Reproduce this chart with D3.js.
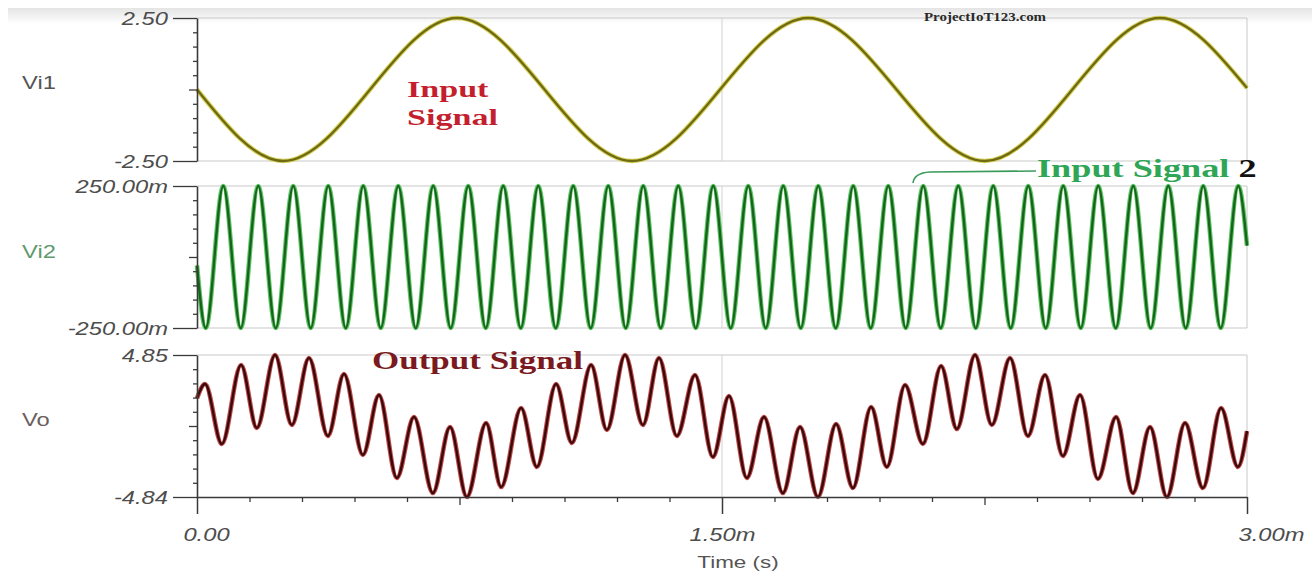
<!DOCTYPE html>
<html>
<head>
<meta charset="utf-8">
<script src="https://cdn.jsdelivr.net/npm/d3@7"></script>
<style>
  html, body { margin: 0; padding: 0; background: #ffffff; }
  svg { display: block; }
</style>
</head>
<body>
<script>
// ---------------- DATA ----------------
// time axis (ms)
const timeDomain = [0, 3];
const timeTickLabels = ["0.00", "1.50m", "3.00m"];
const timeMajorTicks = [0, 1.5, 3];

// Vi1 : extrema [time ms, volts]
const vi1Points = [
  [0.000, 0.00], [0.246, -2.50], [0.743, 2.50], [1.243, -2.50],
  [1.746, 2.50], [2.251, -2.50], [2.751, 2.50], [3.000, 0.05]
];
const vi1Domain = [-2.5, 2.5];
const vi1TickLabels = ["-2.50", "2.50"];

// Vi2 : extrema [time ms, volts]
const vi2Points = [
  [0.000,-0.03],[0.025,-0.25],[0.075,0.25],[0.125,-0.25],[0.175,0.25],[0.225,-0.25],[0.275,0.25],[0.325,-0.25],[0.375,0.25],[0.425,-0.25],[0.475,0.25],
  [0.525,-0.25],[0.575,0.25],[0.625,-0.25],[0.675,0.25],[0.725,-0.25],[0.775,0.25],[0.825,-0.25],[0.875,0.25],[0.925,-0.25],[0.975,0.25],
  [1.025,-0.25],[1.075,0.25],[1.125,-0.25],[1.175,0.25],[1.225,-0.25],[1.275,0.25],[1.325,-0.25],[1.375,0.25],[1.425,-0.25],[1.475,0.25],
  [1.525,-0.25],[1.575,0.25],[1.625,-0.25],[1.675,0.25],[1.725,-0.25],[1.775,0.25],[1.825,-0.25],[1.875,0.25],[1.925,-0.25],[1.975,0.25],
  [2.025,-0.25],[2.075,0.25],[2.125,-0.25],[2.175,0.25],[2.225,-0.25],[2.275,0.25],[2.325,-0.25],[2.375,0.25],[2.425,-0.25],[2.475,0.25],
  [2.525,-0.25],[2.575,0.25],[2.625,-0.25],[2.675,0.25],[2.725,-0.25],[2.775,0.25],[2.825,-0.25],[2.875,0.25],[2.925,-0.25],[2.975,0.25],
  [3.000,0.04]
];
const vi2Domain = [-0.25, 0.25];
const vi2TickLabels = ["-250.00m", "250.00m"];

// Vo : extrema [time ms, volts]
const voPoints = [
  [0.000,1.90],[0.023,2.87],[0.071,-1.22],[0.126,4.17],[0.171,-0.13],[0.223,4.85],[0.271,0.07],[0.320,4.65],[0.374,-0.68],[0.420,3.55],
  [0.474,-1.97],[0.520,2.12],[0.571,-3.54],[0.620,0.62],[0.674,-4.57],[0.723,-0.06],[0.771,-4.84],[0.826,0.21],[0.869,-4.16],[0.926,1.23],
  [0.971,-2.79],[1.026,2.87],[1.071,-1.15],[1.126,4.17],[1.171,-0.27],[1.223,4.85],[1.274,0.07],[1.320,4.65],[1.371,-0.68],[1.423,3.49],
  [1.474,-2.11],[1.520,2.05],[1.571,-3.54],[1.620,0.62],[1.674,-4.57],[1.723,-0.06],[1.774,-4.84],[1.826,0.14],[1.874,-4.23],[1.926,1.30],
  [1.971,-2.79],[2.023,2.80],[2.074,-1.22],[2.126,4.10],[2.171,-0.20],[2.223,4.85],[2.271,0.07],[2.323,4.65],[2.374,-0.68],[2.423,3.49],
  [2.474,-2.04],[2.523,2.12],[2.574,-3.61],[2.626,0.62],[2.674,-4.57],[2.723,-0.06],[2.771,-4.84],[2.823,0.21],[2.874,-4.23],[2.926,1.23],
  [2.974,-2.79],[3.000,-0.34]
];
const voDomain = [-4.84, 4.85];
const voTickLabels = ["-4.84", "4.85"];

const seriesNames = ["Vi1", "Vi2", "Vo"];

// ---------------- LAYOUT ----------------
const W = 1312, H = 574;
const X0 = 197, X1 = 1247;
const SANS = "'Liberation Sans', Arial, sans-serif";
const SERIF = "'Liberation Serif', 'Times New Roman', serif";
const SX = 1.32; // horizontal stretch of the original picture's text

const panels = [
  { name: seriesNames[0], pts: vi1Points, domain: vi1Domain, labels: vi1TickLabels, top: 18, bottom: 161,
    core: "#6f6a14", halo: "#d2cc40", labelColor: "#555555", labelY: 83 },
  { name: seriesNames[1], pts: vi2Points, domain: vi2Domain, labels: vi2TickLabels, top: 186, bottom: 328,
    core: "#1b621f", halo: "#3cbf45", labelColor: "#5f9a6c", labelY: 252 },
  { name: seriesNames[2], pts: voPoints, domain: voDomain, labels: voTickLabels, top: 355, bottom: 497,
    core: "#380a0a", halo: "#b8282a", labelColor: "#6b5e5e", labelY: 420 }
];

const svg = d3.select("body").append("svg").attr("width", W).attr("height", H);

// top grey band (browser bar in the screenshot)
const defs = svg.append("defs");
const grad = defs.append("linearGradient").attr("id", "band").attr("x1", 0).attr("y1", 0).attr("x2", 0).attr("y2", 1);
grad.append("stop").attr("offset", "0%").attr("stop-color", "#e4e4e4");
grad.append("stop").attr("offset", "100%").attr("stop-color", "#ffffff");
svg.append("rect").attr("x", 8).attr("y", 8).attr("width", W - 8).attr("height", 16).attr("fill", "url(#band)");

const x = d3.scaleLinear().domain(timeDomain).range([X0, X1]);

panels.forEach((p, i) => {
  const y = d3.scaleLinear().domain(p.domain).range([p.bottom, p.top]);
  const g = svg.append("g");

  // grid / frame
  g.append("line").attr("x1", X0).attr("x2", X1).attr("y1", y(p.domain[1])).attr("y2", y(p.domain[1]))
    .attr("stroke", "#c9c9c9").attr("stroke-width", 1);
  if (i < 2) {
    g.append("line").attr("x1", X0).attr("x2", X1).attr("y1", y(p.domain[0])).attr("y2", y(p.domain[0]))
      .attr("stroke", "#c9c9c9").attr("stroke-width", 1);
  }
  g.append("line").attr("x1", x(timeDomain[1])).attr("x2", x(timeDomain[1])).attr("y1", p.top).attr("y2", p.bottom)
    .attr("stroke", "#c9c9c9").attr("stroke-width", 1);
  g.append("line").attr("x1", x(1.5)).attr("x2", x(1.5)).attr("y1", p.top).attr("y2", p.bottom)
    .attr("stroke", "#d2d2d2").attr("stroke-width", 1);

  // signal
  const line = d3.line().x(d => x(d[0])).y(d => y(d[1])).curve(d3.curveMonotoneX);
  g.append("path").datum(p.pts).attr("d", line).attr("fill", "none")
    .attr("stroke", p.halo).attr("stroke-width", 4.6).attr("stroke-linejoin", "round").attr("opacity", 0.85);
  g.append("path").datum(p.pts).attr("d", line).attr("fill", "none")
    .attr("stroke", p.core).attr("stroke-width", 2.4).attr("stroke-linejoin", "round");

  // y axis: minor ticks (10 equal divisions)
  const lo = p.domain[0], hi = p.domain[1];
  const minor = d3.range(1, 10).filter(k => k !== 5).map(k => lo + k * (hi - lo) / 10);
  const axMinor = d3.axisLeft(y).tickValues(minor).tickSize(4).tickFormat("").tickSizeOuter(0);
  const gm = g.append("g").attr("transform", `translate(${X0},0)`).call(axMinor);
  gm.select(".domain").attr("stroke", "#3a3a3a").attr("stroke-width", 1.6);
  gm.selectAll(".tick line").attr("stroke", "#3a3a3a").attr("stroke-width", 1.3);

  const axMid = d3.axisLeft(y).tickValues([(lo + hi) / 2]).tickSize(8).tickFormat("").tickSizeOuter(0);
  const gmid = g.append("g").attr("transform", `translate(${X0},0)`).call(axMid);
  gmid.select(".domain").remove();
  gmid.selectAll(".tick line").attr("stroke", "#3a3a3a").attr("stroke-width", 1.3);

  // major ends with labels
  const axMajor = d3.axisLeft(y).tickValues([lo, hi]).tickSize(24).tickSizeOuter(0)
    .tickFormat((d, k) => p.labels[k]);
  const gM = g.append("g").attr("transform", `translate(${X0},0)`).call(axMajor);
  gM.select(".domain").remove();
  gM.selectAll(".tick line").attr("stroke", "#3a3a3a").attr("stroke-width", 1.3);
  gM.selectAll(".tick text")
    .attr("x", -29 / SX).attr("dy", "0.36em")
    .attr("transform", `scale(${SX},1)`)
    .attr("font-family", SANS).attr("font-style", "italic").attr("font-size", 18)
    .attr("fill", "#4d4d4d").attr("text-anchor", "end");

  // series label
  svg.append("text").attr("transform", `translate(22,${p.labelY}) scale(${SX},1)`)
    .attr("dy", "0.36em").attr("font-family", SANS).attr("font-size", 18).attr("fill", p.labelColor)
    .text(p.name);
});

// ---------------- bottom time axis ----------------
const yBottom = panels[2].bottom;
const minorX = d3.range(1, 20).filter(k => k !== 10 && k !== 5 && k !== 15).map(k => k * 0.15);
const gx1 = svg.append("g").attr("transform", `translate(0,${yBottom})`)
  .call(d3.axisBottom(x).tickValues(minorX).tickSize(5).tickFormat("").tickSizeOuter(0));
gx1.select(".domain").attr("stroke", "#3a3a3a").attr("stroke-width", 1.6);
gx1.selectAll(".tick line").attr("stroke", "#3a3a3a").attr("stroke-width", 1.3);

const gx2 = svg.append("g").attr("transform", `translate(0,${yBottom})`)
  .call(d3.axisBottom(x).tickValues([0.75, 2.25]).tickSize(8).tickFormat("").tickSizeOuter(0));
gx2.select(".domain").remove();
gx2.selectAll(".tick line").attr("stroke", "#3a3a3a").attr("stroke-width", 1.3);

const labelShift = [9, 0, 24];
const gx3 = svg.append("g").attr("transform", `translate(0,${yBottom})`)
  .call(d3.axisBottom(x).tickValues(timeMajorTicks).tickSize(17).tickSizeOuter(0)
    .tickFormat((d, k) => timeTickLabels[k]));
gx3.select(".domain").remove();
gx3.selectAll(".tick line").attr("stroke", "#3a3a3a").attr("stroke-width", 1.5);
gx3.selectAll(".tick text")
  .attr("y", 44).attr("dy", 0)
  .attr("x", (d, k) => labelShift[k] / SX)
  .attr("transform", `scale(${SX},1)`)
  .attr("font-family", SANS).attr("font-style", "italic").attr("font-size", 18)
  .attr("fill", "#4d4d4d").attr("text-anchor", "middle");

svg.append("text").attr("transform", `translate(738,568) scale(${SX},1)`)
  .attr("text-anchor", "middle").attr("font-family", SANS).attr("font-size", 17).attr("fill", "#555555")
  .text("Time (s)");

// ---------------- annotations ----------------
svg.append("text").attr("transform", `translate(985,21) scale(1.3,1)`)
  .attr("text-anchor", "middle").attr("font-family", SERIF).attr("font-weight", "bold")
  .attr("font-size", 11.5).attr("fill", "#2a2a2a").text("ProjectIoT123.com");

const inSig = svg.append("text").attr("font-family", SERIF).attr("font-weight", "bold")
  .attr("font-size", 24).attr("fill", "#c41f2e");
inSig.append("tspan").attr("x", 0).attr("y", 0).text("Input");
inSig.append("tspan").attr("x", 0).attr("y", 28).text("Signal");
inSig.attr("transform", `translate(407,97) scale(1.42,1)`);

svg.append("path").attr("d", "M913,183 Q914,173 930,172 L1036,171")
  .attr("fill", "none").attr("stroke", "#3a9a5a").attr("stroke-width", 1.6);
const in2 = svg.append("text").attr("transform", `translate(1037,177) scale(1.45,1)`)
  .attr("font-family", SERIF).attr("font-weight", "bold").attr("font-size", 25);
in2.append("tspan").attr("fill", "#2fa556").text("Input Signal ");
in2.append("tspan").attr("fill", "#111111").text("2");

svg.append("text").attr("transform", `translate(372,369) scale(1.4,1)`)
  .attr("font-family", SERIF).attr("font-weight", "bold").attr("font-size", 25)
  .attr("fill", "#7a1a20").text("Output Signal");
</script>
</body>
</html>
